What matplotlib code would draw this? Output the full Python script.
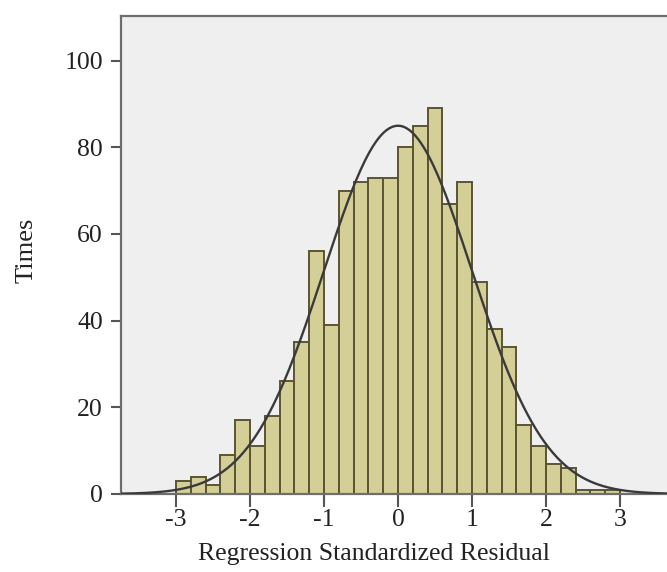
import numpy as np
import matplotlib
matplotlib.use('Agg')
import matplotlib.pyplot as plt

# ── 数据 ──
bin_edges = [-3.0, -2.8, -2.6, -2.4, -2.2, -2.0, -1.8, -1.6, -1.4, -1.2,
             -1.0, -0.8, -0.6, -0.4, -0.2, 0.0, 0.2, 0.4, 0.6, 0.8,
             1.0, 1.2, 1.4, 1.6, 1.8, 2.0, 2.2, 2.4, 2.6, 2.8, 3.0]
counts = [3, 4, 2, 9, 17, 11, 18, 26, 35, 56,
          39, 70, 72, 73, 73, 80, 85, 89, 67, 72,
          49, 38, 34, 16, 11, 7, 6, 1, 1, 1]
res_mean = 0.0
res_std = 1.0
x_ticks = [-3, -2, -1, 0, 1, 2, 3]
y_ticks = [0, 20, 40, 60, 80, 100]

plt.rcParams['font.family'] = ['Liberation Serif', 'DejaVu Serif']

fig = plt.figure(figsize=(6.67, 5.72), dpi=100)
ax = fig.add_axes([121 / 667, 1 - 494 / 572, 1 - 121 / 667, (494 - 16) / 572])
ax.set_facecolor('#efefef')

edges = np.array(bin_edges)
widths = np.diff(edges)
ax.bar(edges[:-1], counts, width=widths, align='edge',
       color='#d4cf97', edgecolor='#5a5433', linewidth=1.4, zorder=2)

# 正态曲线
n = sum(counts)
bw = widths[0]
xs = np.linspace(-3.75, 3.65, 400)
ys = n * bw * np.exp(-0.5 * ((xs - res_mean) / res_std) ** 2) / (res_std * np.sqrt(2 * np.pi))
ax.plot(xs, ys, color='#3a3a3a', linewidth=1.7, zorder=3)

ax.set_xlim(-3.743, 3.635)
ax.set_ylim(0, 110.3)
ax.set_xticks(x_ticks)
ax.set_xticklabels([str(t) for t in x_ticks])
ax.set_yticks(y_ticks)

for s in ['left', 'top', 'bottom']:
    ax.spines[s].set_color('#6e6e6e')
    ax.spines[s].set_linewidth(1.6)
ax.spines['right'].set_visible(False)
ax.tick_params(axis='y', direction='out', length=7, width=1.5, color='#555555',
               labelsize=18.5, pad=6, labelcolor='#222222')
ax.tick_params(axis='x', direction='out', length=9, width=1.5, color='#555555',
               labelsize=18.5, pad=2, labelcolor='#222222')

ax.set_xlabel('Regression Standardized Residual', fontsize=18.5, color='#222222')
ax.xaxis.set_label_coords(0.463, -0.102)
ax.set_ylabel('Times', fontsize=19, color='#222222')
ax.yaxis.set_label_coords(-0.152, 0.51)

fig.savefig('out.png', dpi=100)
